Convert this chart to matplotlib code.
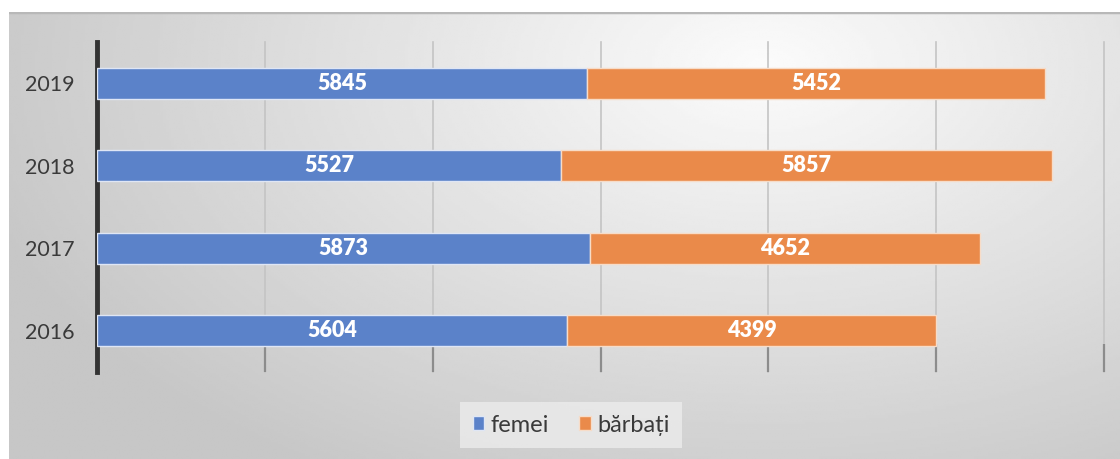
import numpy as np
import matplotlib
matplotlib.use('Agg')
import matplotlib.pyplot as plt

# data
years = ['2016', '2017', '2018', '2019']
femei = [5604, 5873, 5527, 5845]
barbati = [4399, 4652, 5857, 5452]
series_names = ['femei', 'bărbați']

BLUE = '#5b82c9'
ORANGE = '#ea8a4a'

plt.rcParams['font.family'] = ['Lato', 'DejaVu Sans']

fig = plt.figure(figsize=(11.2, 4.59), dpi=100)
fig.patch.set_facecolor('white')

# gray panel with a soft radial gradient
bg = fig.add_axes([9 / 1120, 0, 1 - 9 / 1120, (459 - 12) / 459], zorder=0)
gx, gy = np.meshgrid(np.linspace(0, 1, 400), np.linspace(0, 1, 200))
r = np.sqrt(((gx - 0.68) / 0.75) ** 2 + ((gy - 0.12) / 1.1) ** 2)
shade = np.clip(0.985 - 0.21 * r, 0.78, 1.0)
bg.imshow(shade, cmap='gray', vmin=0, vmax=1, aspect='auto',
          extent=[0, 1, 0, 1], origin='upper')
bg.axhline(1, color='#b8b8b8', lw=2.5)
bg.set_xlim(0, 1)
bg.set_ylim(0, 1)
bg.axis('off')

ax = fig.add_axes([97 / 1120, (459 - 372) / 459, (1104 - 97) / 1120, 330 / 459], zorder=1)
ax.patch.set_alpha(0)

y = np.arange(len(years))
h = 0.37
b1 = ax.barh(y, femei, height=h, color=BLUE, edgecolor='#dfe6f5', linewidth=1.0,
             label=series_names[0], zorder=3)
b2 = ax.barh(y, barbati, left=femei, height=h, color=ORANGE, edgecolor='#f7dcc8',
             linewidth=1.0, label=series_names[1], zorder=3)
for bars in (b1, b2):
    ax.bar_label(bars, label_type='center', color='white', fontsize=15.5,
                 fontweight='heavy')

ax.set_xlim(0, 12000)
ax.set_ylim(-0.5, 3.5)
ax.set_xticks(np.arange(0, 12001, 2000))
ax.set_xticklabels([])
ax.set_yticks(y)
ax.set_yticklabels(years, fontsize=15.5, color='#3a3a3a')
ax.tick_params(axis='y', length=0, pad=16)
ax.tick_params(axis='x', direction='in', length=20, width=1.6, color='#8c8c8c')
ax.grid(axis='x', color='#c4c4c4', linewidth=1.2, zorder=0)
ax.set_axisbelow(True)
for gl in ax.get_xgridlines():
    gl.set_clip_on(False)

for side in ('top', 'right', 'bottom'):
    ax.spines[side].set_visible(False)
ax.spines['left'].set_linewidth(3.5)
ax.spines['left'].set_color('#333333')

leg = fig.legend(handles=[b1, b2], loc='center', bbox_to_anchor=(571 / 1120, 1 - 425 / 459),
                 ncol=2, frameon=True, fontsize=17, handlelength=0.5, handleheight=0.5,
                 handletextpad=0.25, columnspacing=1.3, borderpad=0.55)
leg.get_frame().set_facecolor('#ececec')
leg.get_frame().set_edgecolor('none')
leg.get_frame().set_alpha(0.8)
leg.get_frame().set_boxstyle('square', pad=0)
for t in leg.get_texts():
    t.set_color('#3a3a3a')

fig.savefig('out.png', dpi=100)
